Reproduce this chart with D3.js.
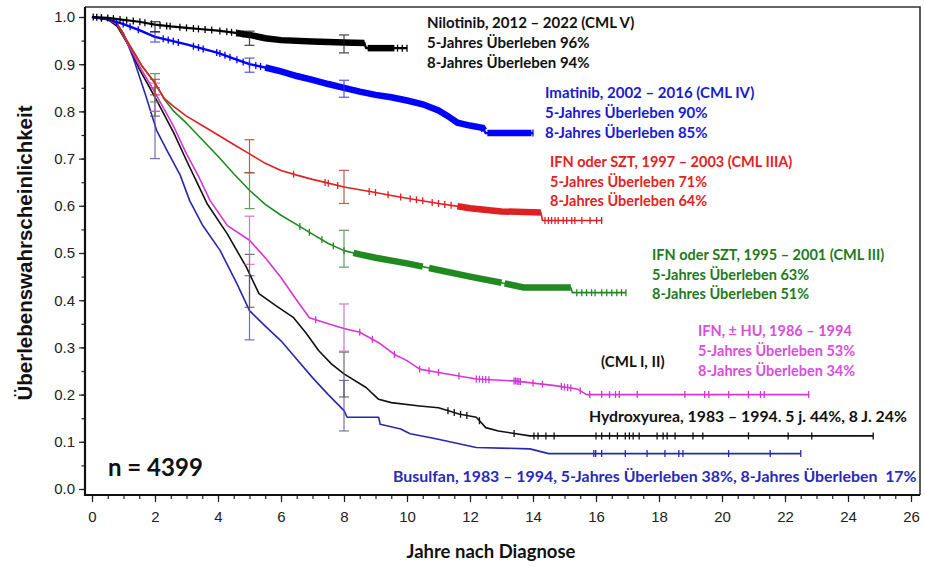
<!DOCTYPE html>
<html>
<head>
<meta charset="utf-8">
<script src="https://cdn.jsdelivr.net/npm/d3@7/dist/d3.min.js"></script>
<style>
  body { margin: 0; background: #fff; }
  svg { display: block; }
  .tick text { font-family: "Liberation Sans", Arial, sans-serif; font-size: 15px; fill: #222; }
  .note { font-family: Lato, "Open Sans", sans-serif; font-weight: bold; font-size: 14.5px; }
</style>
</head>
<body>
<svg id="chart" width="925" height="567"></svg>
<script>
// tick values
const xTicks = [0, 2, 4, 6, 8, 10, 12, 14, 16, 18, 20, 22, 24, 26];
const yTicks = [0, 0.1, 0.2, 0.3, 0.4, 0.5, 0.6, 0.7, 0.8, 0.9, 1.0];

// Kaplan-Meier curves, [years, survival]
const nilotinib = [[0, 1], [0.5, 0.998], [1, 0.994], [1.5, 0.99], [2, 0.984], [2.5, 0.98], [3, 0.977], [3.5, 0.974],
  [4, 0.971], [4.5, 0.967], [5, 0.962], [5.5, 0.955], [6, 0.951], [7, 0.948], [8, 0.946], [8.65, 0.945], [8.7, 0.934], [10, 0.934]];
const imatinib = [[0, 1], [0.5, 0.995], [1, 0.985], [1.5, 0.972], [2, 0.958], [2.5, 0.95], [3, 0.942], [3.5, 0.933],
  [4, 0.924], [4.5, 0.912], [5, 0.9], [5.5, 0.893], [6, 0.885], [6.5, 0.875], [7, 0.867], [7.5, 0.858], [8, 0.85],
  [8.5, 0.842], [9, 0.835], [9.5, 0.83], [10, 0.823], [10.5, 0.815], [11, 0.802], [11.3, 0.79], [11.6, 0.776],
  [12, 0.77], [12.4, 0.765], [12.5, 0.754], [14, 0.754]];
const cml3a = [[0, 1], [0.5, 0.995], [0.8, 0.985], [1.2, 0.94], [1.6, 0.895], [2, 0.86], [2.3, 0.827], [2.6, 0.81],
  [3, 0.79], [3.5, 0.77], [4, 0.75], [4.5, 0.73], [5, 0.71], [5.5, 0.69], [6, 0.675], [6.5, 0.665], [7, 0.656],
  [7.5, 0.648], [8, 0.64], [8.5, 0.634], [9, 0.628], [9.5, 0.622], [10, 0.616], [11, 0.605], [12, 0.595],
  [13, 0.588], [14.25, 0.586], [14.3, 0.569], [16.2, 0.569]];
const cml3 = [[0, 1], [0.5, 0.995], [0.8, 0.985], [1.2, 0.94], [1.6, 0.895], [2, 0.86], [2.3, 0.825], [2.6, 0.8],
  [3, 0.775], [3.5, 0.74], [4, 0.705], [4.5, 0.668], [5, 0.633], [5.5, 0.603], [6, 0.58], [6.5, 0.56], [7, 0.54],
  [7.5, 0.52], [8, 0.505], [8.5, 0.497], [9, 0.49], [10, 0.478], [11, 0.464], [12, 0.45], [13, 0.437],
  [13.7, 0.427], [15.2, 0.427], [15.25, 0.416], [16.95, 0.416]];
const ifnHu = [[0, 1], [0.5, 0.995], [0.8, 0.985], [1.2, 0.935], [1.6, 0.885], [2, 0.84], [2.6, 0.767], [3, 0.71],
  [3.4, 0.66], [3.75, 0.611], [4.3, 0.558], [5, 0.527], [5.5, 0.49], [6, 0.448], [6.5, 0.4], [6.9, 0.363],
  [7.5, 0.35], [8, 0.34], [8.5, 0.332], [9.1, 0.31], [9.6, 0.285], [10, 0.272], [10.4, 0.254], [11, 0.247],
  [12.2, 0.233], [13.4, 0.229], [14.7, 0.219], [15.4, 0.212], [15.7, 0.2], [22.75, 0.2]];
const hydroxy = [[0, 1], [0.5, 0.995], [0.8, 0.98], [1.2, 0.935], [1.5, 0.89], [2, 0.83], [2.6, 0.754], [3, 0.696],
  [3.4, 0.64], [3.65, 0.605], [4.3, 0.54], [4.9, 0.47], [5.3, 0.414], [5.8, 0.39], [6.4, 0.363], [6.8, 0.33],
  [7.2, 0.293], [7.6, 0.265], [8, 0.244], [8.7, 0.215], [9.1, 0.19], [9.5, 0.183], [10.4, 0.176], [11, 0.172],
  [11.65, 0.159], [12.2, 0.152], [12.5, 0.13], [12.9, 0.123], [13.9, 0.1125], [24.8, 0.1125]];
const busulfan = [[0, 1], [0.5, 0.995], [0.8, 0.985], [1.0, 0.965], [1.3, 0.915], [1.7, 0.835], [2.05, 0.76],
  [2.4, 0.715], [2.8, 0.665], [3.1, 0.611], [3.5, 0.56], [4.07, 0.505], [4.6, 0.435], [5, 0.378], [5.5, 0.345],
  [6, 0.314], [6.5, 0.275], [7, 0.236], [7.5, 0.2], [8, 0.166], [8.1, 0.152], [9.1, 0.152], [9.15, 0.137],
  [9.8, 0.127], [10.1, 0.117], [10.8, 0.108], [11.1, 0.104], [12.2, 0.088], [13.9, 0.085], [14.5, 0.075], [22.5, 0.075]];

// censoring times (years)
const niloCensor = [0.04, 0.15, 0.3, 0.5, 0.68, 0.89, 1.1, 1.31, 1.52, 1.68, 1.89, 2.16, 2.37, 2.48, 2.79, 3.0,
  3.22, 3.38, 3.59, 3.8, 4.06, 4.28, 4.43, 4.59, 4.8, 9.7, 9.85, 10.0];
const imaCensor = [0.3, 0.78, 0.99, 1.21, 1.47, 2.26, 2.42, 2.58, 2.74, 3.22, 3.38, 3.53, 3.96, 4.06, 4.22, 4.38,
  4.6, 4.8, 5.0, 5.2, 5.35, 14.0];
const cml3aCensor = [6.4, 7.4, 7.5, 7.8, 8.8, 9.0, 9.4, 9.8, 10.1, 10.3, 10.5, 10.8, 11.0, 11.2, 11.4, 14.38, 14.49,
  14.59, 14.7, 14.8, 14.96, 15.07, 15.23, 15.33, 15.55, 15.81, 16.02, 16.18];
const cml3Censor = [6.6, 6.9, 7.3, 7.66, 8.0, 15.39, 15.55, 15.7, 15.86, 15.97, 16.18, 16.34, 16.5, 16.66, 16.81, 16.95];
const ifnHuCensor = [7.1, 8.5, 8.9, 9.6, 10.4, 10.7, 11.0, 11.65, 12.2, 12.3, 12.4, 12.5, 12.6, 13.4, 13.45, 13.5,
  13.55, 13.6, 14.0, 14.3, 14.9, 15.0, 15.1, 15.2, 15.5, 15.8, 16.18, 16.43, 16.62, 16.74, 17.31, 18.82, 19.45,
  19.58, 20.21, 20.84, 21.22, 21.34, 22.75];
const hydroxyCensor = [11.3, 11.5, 11.7, 11.9, 12.3, 13.4, 14.03, 14.16, 14.41, 14.67, 16.0, 16.18, 16.43, 16.68,
  16.93, 17.06, 17.18, 17.37, 17.94, 18.13, 18.26, 18.51, 19.08, 19.39, 20.84, 22.1, 22.85, 24.8];
const busuCensor = [15.93, 15.99, 16.18, 16.93, 17.62, 18.19, 18.63, 18.76, 20.21, 21.53, 22.5];

// stretches where the censoring ticks merge into a solid band
const niloDense = [[4.6, 8.65], [8.75, 9.6]];
const imaDense = [[5.5, 12.45], [12.55, 13.95]];
const cml3aDense = [[11.6, 14.25]];
const cml3Dense = [[8.3, 10.5], [10.7, 13.0], [13.1, 15.2]];
const ifnHuDense = [];
const hydroxyDense = [];
const busuDense = [];

// 95% CI at 2, 5 and 8 years: [year, lower, upper]
const niloErr = [[2, 0.969, 0.99], [5, 0.94, 0.97], [8, 0.924, 0.962]];
const imaErr = [[2, 0.947, 0.968], [5, 0.883, 0.913], [8, 0.83, 0.866]];
const cml3aErr = [[2, 0.835, 0.868], [5, 0.67, 0.74], [8, 0.605, 0.675]];
const cml3Err = [[2, 0.82, 0.88], [5, 0.594, 0.67], [8, 0.47, 0.548]];
const ifnHuErr = [[2, 0.8, 0.86], [5, 0.476, 0.578], [8, 0.292, 0.392]];
const hydroxyErr = [[2, 0.79, 0.85], [5, 0.385, 0.497], [8, 0.195, 0.29]];
const busuErr = [[2, 0.7, 0.8], [5, 0.316, 0.452], [8, 0.123, 0.23]];

const series = [
  { pts: busulfan, cens: busuCensor, dense: busuDense, err: busuErr, color: "#2828a8", errColor: "#5a5aa8", w: 1.6 },
  { pts: hydroxy, cens: hydroxyCensor, dense: hydroxyDense, err: hydroxyErr, color: "#111", errColor: "#555", w: 1.6 },
  { pts: ifnHu, cens: ifnHuCensor, dense: ifnHuDense, err: ifnHuErr, color: "#d535d5", errColor: "#c860c8", w: 1.6 },
  { pts: cml3, cens: cml3Censor, dense: cml3Dense, err: cml3Err, color: "#1f8a1f", errColor: "#4a8a4a", w: 1.6 },
  { pts: cml3a, cens: cml3aCensor, dense: cml3aDense, err: cml3aErr, color: "#dd2020", errColor: "#b0402a", w: 1.6 },
  { pts: imatinib, cens: imaCensor, dense: imaDense, err: imaErr, color: "#0000ff", errColor: "#3a3ae0", w: 2.4 },
  { pts: nilotinib, cens: niloCensor, dense: niloDense, err: niloErr, color: "#000", errColor: "#222", w: 2.2 },
];

const svg = d3.select("#chart");
const frame = { left: 85, top: 7, right: 920, bottom: 495 };

const x = d3.scaleLinear().domain([0, 26]).range([92, 911]);
const y = d3.scaleLinear().domain([0, 1]).range([489, 17]);

function survAt(pts, t) {
  for (let i = 0; i < pts.length - 1; i++) {
    const a = pts[i], b = pts[i + 1];
    if (t >= a[0] && t <= b[0]) {
      if (b[0] === a[0]) return b[1];
      return a[1] + (b[1] - a[1]) * (t - a[0]) / (b[0] - a[0]);
    }
  }
  return pts[pts.length - 1][1];
}

function segment(pts, t0, t1) {
  const inner = pts.filter((p) => p[0] > t0 && p[0] < t1);
  return [[t0, survAt(pts, t0)]].concat(inner, [[t1, survAt(pts, t1)]]);
}

const line = d3.line().x((d) => x(d[0])).y((d) => y(d[1]));

// axes
const minorX = d3.range(0, 26.01, 0.5);
const minorY = d3.range(0, 1.001, 0.05);

svg.append("g")
  .attr("transform", "translate(0," + frame.bottom + ")")
  .call(d3.axisBottom(x).tickValues(minorX).tickSize(4).tickFormat(""))
  .call((g) => g.select(".domain").remove());
svg.append("g")
  .attr("transform", "translate(0," + frame.bottom + ")")
  .call(d3.axisBottom(x).tickValues(xTicks).tickSize(7).tickPadding(9).tickFormat(d3.format("d")))
  .call((g) => g.select(".domain").remove());

svg.append("g")
  .attr("transform", "translate(" + frame.left + ",0)")
  .call(d3.axisLeft(y).tickValues(minorY).tickSize(3.5).tickFormat(""))
  .call((g) => g.select(".domain").remove());
svg.append("g")
  .attr("transform", "translate(" + frame.left + ",0)")
  .call(d3.axisLeft(y).tickValues(yTicks).tickSize(6).tickPadding(4).tickFormat(d3.format(".1f")))
  .call((g) => g.select(".domain").remove());

svg.selectAll(".tick line").attr("stroke", "#222").attr("stroke-width", 1.2);

// box
svg.append("path")
  .attr("d", "M" + frame.left + "," + frame.top + "H" + frame.right + "V" + frame.bottom)
  .attr("fill", "none").attr("stroke", "#333").attr("stroke-width", 1.6);
svg.append("path")
  .attr("d", "M" + frame.left + "," + frame.top + "V" + frame.bottom + "H" + frame.right)
  .attr("fill", "none").attr("stroke", "#111").attr("stroke-width", 2.2);

// curves
const plot = svg.append("g");
series.forEach((s) => {
  const g = plot.append("g");
  g.append("path")
    .attr("d", line(s.pts))
    .attr("fill", "none")
    .attr("stroke", s.color)
    .attr("stroke-width", s.w)
    .attr("stroke-linejoin", "round");

  s.dense.forEach((r) => {
    g.append("path")
      .attr("d", line(segment(s.pts, r[0], r[1])))
      .attr("fill", "none")
      .attr("stroke", s.color)
      .attr("stroke-width", 6.5);
  });

  g.selectAll(".cens")
    .data(s.cens)
    .enter()
    .append("line")
    .attr("x1", (t) => x(t))
    .attr("x2", (t) => x(t))
    .attr("y1", (t) => y(survAt(s.pts, t)) - 3.5)
    .attr("y2", (t) => y(survAt(s.pts, t)) + 3.5)
    .attr("stroke", s.color)
    .attr("stroke-width", 1.3);

  const eb = g.selectAll(".err").data(s.err).enter().append("g")
    .attr("stroke", s.errColor).attr("stroke-width", 1.2).attr("opacity", 0.85);
  eb.append("line")
    .attr("x1", (d) => x(d[0])).attr("x2", (d) => x(d[0]))
    .attr("y1", (d) => y(d[1])).attr("y2", (d) => y(d[2]));
  eb.append("line")
    .attr("x1", (d) => x(d[0]) - 5).attr("x2", (d) => x(d[0]) + 5)
    .attr("y1", (d) => y(d[1])).attr("y2", (d) => y(d[1]));
  eb.append("line")
    .attr("x1", (d) => x(d[0]) - 5).attr("x2", (d) => x(d[0]) + 5)
    .attr("y1", (d) => y(d[2])).attr("y2", (d) => y(d[2]));
});

// annotations
function note(px, py, lines, color, gap, size) {
  svg.append("g").attr("class", "note")
    .attr("font-size", size || 14.5)
    .style("font-size", (size || 14.5) + "px")
    .selectAll("text")
    .data(lines)
    .enter()
    .append("text")
    .attr("x", px)
    .attr("y", (d, i) => py + i * (gap || 20))
    .attr("fill", color)
    .text((d) => d);
}

note(427, 28, ["Nilotinib, 2012 \u2013 2022 (CML V)", "5-Jahres \u00dcberleben 96%", "8-Jahres \u00dcberleben 94%"], "#111", 20, 15);
note(545, 98, ["Imatinib, 2002 \u2013 2016 (CML IV)", "5-Jahres \u00dcberleben 90%", "8-Jahres \u00dcberleben 85%"], "#1a1ad0", 20, 15);
note(550, 167, ["IFN oder SZT, 1997 \u2013 2003 (CML IIIA)", "5-Jahres \u00dcberleben 71%", "8-Jahres \u00dcberleben 64%"], "#e02424", 19.5);
note(652, 260, ["IFN oder SZT, 1995 \u2013 2001 (CML III)", "5-Jahres \u00dcberleben 63%", "8-Jahres \u00dcberleben 51%"], "#1f7a1f", 19.5);
note(698, 336, ["IFN, \u00b1 HU, 1986 \u2013 1994", "5-Jahres \u00dcberleben 53%", "8-Jahres \u00dcberleben 34%"], "#d94fd9");
note(601, 367, ["(CML I, II)"], "#111", 20, 15);
note(589, 422, ["Hydroxyurea, 1983 \u2013 1994. 5 j. 44%, 8 J. 24%"], "#111", 20, 15.8);
note(393, 482, ["Busulfan, 1983 \u2013 1994, 5-Jahres \u00dcberleben 38%, 8-Jahres \u00dcberleben\u00a0 17%"], "#2a2ab4", 20, 15.9);

svg.append("text")
  .attr("x", 108).attr("y", 476)
  .attr("font-family", "Lato, sans-serif").attr("font-weight", "bold").attr("font-size", 24)
  .attr("fill", "#111")
  .text("n = 4399");

// axis titles
svg.append("text")
  .attr("x", 491).attr("y", 558)
  .attr("text-anchor", "middle")
  .attr("font-family", "Lato, sans-serif").attr("font-weight", "bold").attr("font-size", 18.5)
  .attr("fill", "#111")
  .text("Jahre nach Diagnose");

svg.append("text")
  .attr("transform", "translate(32,253) rotate(-90)")
  .attr("text-anchor", "middle")
  .attr("font-family", "'Liberation Sans', Arial, sans-serif").attr("font-weight", "bold").attr("font-size", 20.5)
  .attr("fill", "#111")
  .text("\u00dcberlebenswahrscheinlichkeit");
</script>
</body>
</html>
